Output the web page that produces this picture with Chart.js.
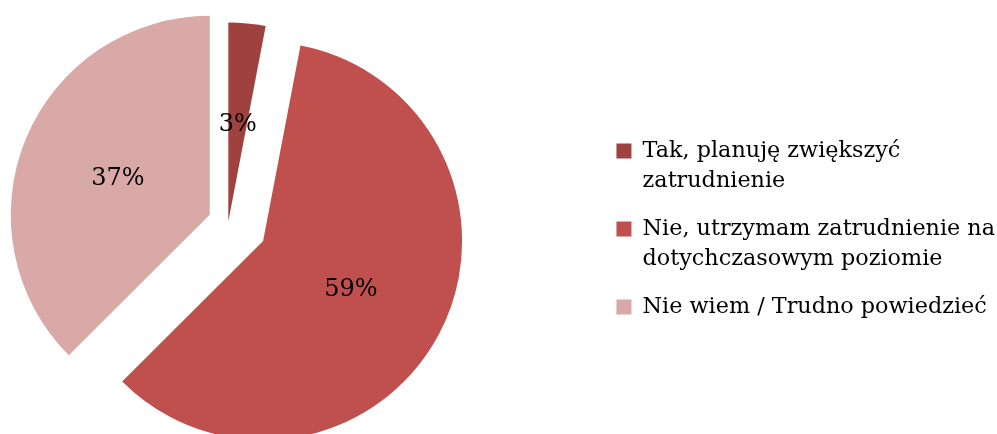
<!DOCTYPE html>
<html>
<head>
<meta charset="utf-8">
<script src="https://cdn.jsdelivr.net/npm/chart.js@4.4.0/dist/chart.umd.min.js"></script>
<style>
  html, body { margin: 0; padding: 0; background: #fff; }
  #wrap { width: 997px; height: 434px; overflow: hidden; position: relative; }
  /* canvas is wider than the page and pulled left so the pie sits left of the legend */
  #pie { position: absolute; left: -142px; top: 0; }
</style>
</head>
<body>
<div id="wrap"><canvas id="pie" width="1139" height="434"></canvas></div>
<script>
// data (values are percentages)
const labels = [
  ["Tak, planuję zwiększyć", "zatrudnienie"],
  ["Nie, utrzymam zatrudnienie na", "dotychczasowym poziomie"],
  "Nie wiem / Trudno powiedzieć"
];
const values = [3.0, 59.4, 37.4];
const colors = ["#9E413F", "#C0504D", "#D9A9A8"];
// how far each slice is pulled out of the pie, px
const explode = [1, 39.5, 20];

Chart.defaults.font.family = "'DejaVu Serif', serif";

// draw the arcs ourselves, each shifted out along its middle angle
const explodedSlices = {
  id: "explodedSlices",
  beforeDatasetDraw(chart, args) {
    const ctx = chart.ctx;
    args.meta.data.forEach((arc, i) => {
      const mid = (arc.startAngle + arc.endAngle) / 2;
      ctx.save();
      ctx.translate(Math.cos(mid) * explode[i], Math.sin(mid) * explode[i]);
      arc.draw(ctx);
      ctx.restore();
    });
    return false;
  },
  afterDatasetsDraw(chart) {
    const ctx = chart.ctx;
    const meta = chart.getDatasetMeta(0);
    const data = chart.data.datasets[0].data;
    ctx.save();
    ctx.font = "24px 'DejaVu Serif'";
    ctx.fillStyle = "#000";
    ctx.textAlign = "center";
    ctx.textBaseline = "middle";
    meta.data.forEach((arc, i) => {
      const mid = (arc.startAngle + arc.endAngle) / 2;
      const d = explode[i] + arc.outerRadius / 2;
      ctx.fillText(Math.round(data[i]) + "%", arc.x + Math.cos(mid) * d, arc.y + Math.sin(mid) * d + 2);
    });
    ctx.restore();
  }
};

new Chart(document.getElementById("pie"), {
  type: "pie",
  data: {
    labels: labels,
    datasets: [{
      data: values,
      backgroundColor: colors,
      borderWidth: 0,
      radius: 199
    }]
  },
  options: {
    responsive: false,
    animation: false,
    layout: { padding: { left: 0, right: -8, top: 11, bottom: 0 } },
    plugins: {
      tooltip: { enabled: false },
      legend: {
        position: "right",
        title: { display: true, text: "", padding: 0, font: { size: 10, lineHeight: "13px" } },
        labels: {
          color: "#000",
          boxWidth: 15,
          boxHeight: 15,
          padding: 18,
          font: { size: 22.3, lineHeight: "30px" }
        }
      }
    }
  },
  plugins: [explodedSlices]
});
</script>
</body>
</html>
